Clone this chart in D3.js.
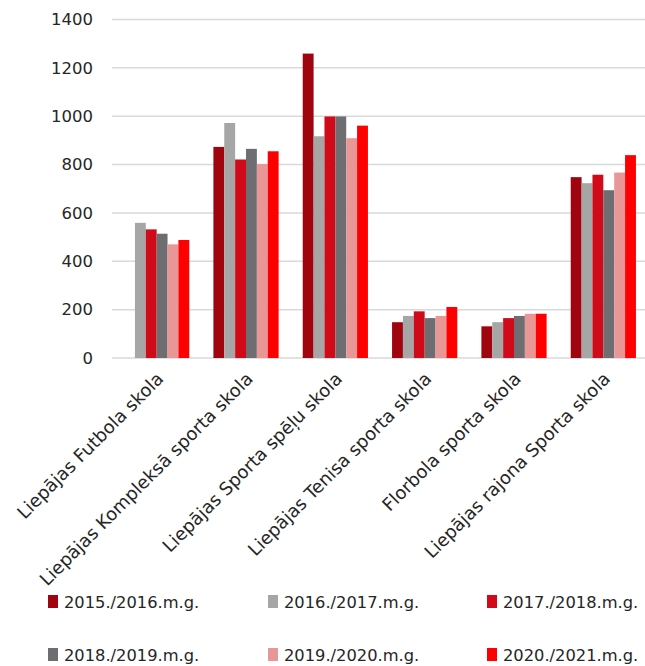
<!DOCTYPE html>
<html><head><meta charset="utf-8">
<script src="https://cdn.jsdelivr.net/npm/d3@7"></script>
<style>body{margin:0;background:#fff}svg{display:block}text{font-family:"DejaVu Sans",sans-serif;fill:#262626}</style>
</head><body><svg id="c" width="645" height="666"></svg>
<script>
const categories = ["Liepājas Futbola skola","Liepājas Kompleksā sporta skola","Liepājas Sporta spēļu skola","Liepājas Tenisa sporta skola","Florbola sporta skola","Liepājas rajona Sporta skola"];
const seriesNames = ["2015./2016.m.g.","2016./2017.m.g.","2017./2018.m.g.","2018./2019.m.g.","2019./2020.m.g.","2020./2021.m.g."];
const s2015 = [null, 873, 1259, 148, 131, 748];
const s2016 = [559, 972, 917, 174, 148, 723];
const s2017 = [532, 821, 999, 193, 165, 758];
const s2018 = [514, 865, 999, 165, 174, 694];
const s2019 = [470, 802, 909, 174, 183, 767];
const s2020 = [488, 855, 961, 211, 183, 839];
const yTicks = [0,200,400,600,800,1000,1200,1400];
const colors = ["#A0050F","#A6A6A6","#D10A1A","#6E6D72","#E99696","#FF0000"];
const seriesValues = [s2015,s2016,s2017,s2018,s2019,s2020];

const svg = d3.select("#c");
const x = d3.scaleBand().domain(categories).range([112,648]).paddingInner(0.27).paddingOuter(0.135);
const xs = d3.scaleBand().domain(seriesNames).range([0, x.bandwidth()]);
const y = d3.scaleLinear().domain([0,1400]).range([358,19.5]);

// gridlines
svg.append("g").selectAll("line").data(yTicks).join("line")
  .attr("x1",112).attr("x2",645).attr("y1",d=>y(d)).attr("y2",d=>y(d))
  .attr("stroke","#D9D9D9").attr("stroke-width",1.5);

// y axis labels
const yAxis = d3.axisLeft(y).tickValues(yTicks).tickSize(0).tickPadding(0).tickFormat(d3.format("d"));
const ya = svg.append("g").attr("transform","translate(93,0)").call(yAxis);
ya.select(".domain").remove();
ya.selectAll("text").attr("font-size",16.5).attr("fill","#262626").style("font-family","'DejaVu Sans', sans-serif");

// bars
seriesNames.forEach((s,i)=>{
  svg.append("g").selectAll("rect")
    .data(categories.map((c,j)=>({c, v: seriesValues[i][j]})).filter(d=>d.v!=null))
    .join("rect")
    .attr("x",d=>x(d.c)+xs(s)).attr("width",xs.bandwidth())
    .attr("y",d=>y(d.v)).attr("height",d=>y(0)-y(d.v))
    .attr("fill",colors[i]);
});

// x labels
svg.append("g").selectAll("text").data(categories).join("text")
  .attr("transform",d=>`translate(${x(d)+x.bandwidth()/2+8},${380}) rotate(-45)`)
  .attr("text-anchor","end").attr("font-size",18).text(d=>d);

// legend
const legX = [48,268,487], legY = [602,655];
const lg = svg.append("g").selectAll("g").data(seriesNames).join("g")
  .attr("transform",(d,i)=>`translate(${legX[i%3]},${legY[Math.floor(i/3)]})`);
lg.append("rect").attr("x",0).attr("y",-7).attr("width",10).attr("height",13).attr("fill",(d,i)=>colors[i]);
lg.append("text").attr("x",16).attr("y",6).attr("font-size",16.3).text(d=>d);
</script></body></html>
